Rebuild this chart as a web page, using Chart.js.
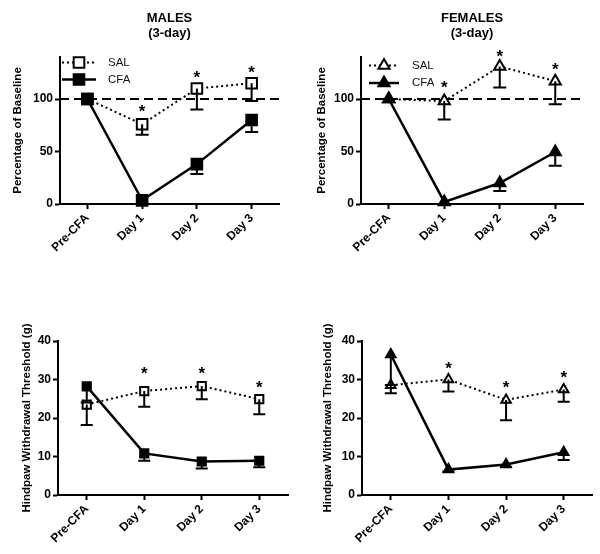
<!DOCTYPE html>
<html>
<head>
<meta charset="utf-8">
<script src="https://cdn.jsdelivr.net/npm/chart.js@4.4.0/dist/chart.umd.min.js"></script>
<style>
  html, body { margin: 0; padding: 0; background: #fff; }
  #wrap { position: relative; width: 600px; height: 554px; }
  canvas { position: absolute; }
</style>
</head>
<body>
<div id="wrap">
  <canvas id="malePct" width="300" height="277" style="left:0;top:0"></canvas>
  <canvas id="femPct" width="300" height="277" style="left:300px;top:0"></canvas>
  <canvas id="maleThr" width="300" height="277" style="left:0;top:277px"></canvas>
  <canvas id="femThr" width="300" height="277" style="left:300px;top:277px"></canvas>
</div>
<script>
const days = ['Pre-CFA', 'Day 1', 'Day 2', 'Day 3'];

// percentage of baseline (error = SEM drawn downward)
const maleSalPct = [100, 76, 110, 115];
const maleSalPctErr = [0, 10, 20, 17];
const maleCfaPct = [100, 3.5, 38, 80];
const maleCfaPctErr = [0, 0, 9.5, 11.5];
const maleSigPct = [null, 92, 125, 130];

const femSalPct = [100, 98, 131, 117];
const femSalPctErr = [0, 17.5, 20, 22];
const femCfaPct = [100, 2, 20, 49.5];
const femCfaPctErr = [0, 0, 7.5, 13];
const femSigPct = [null, 115, 145, 132];

// hindpaw withdrawal threshold (g)
const maleSalThr = [23.5, 27, 28.3, 24.9];
const maleSalThrErr = [5.3, 4.1, 3.4, 3.9];
const maleCfaThr = [28.2, 10.8, 8.7, 8.9];
const maleCfaThrErr = [4.2, 1.9, 1.8, 1.7];
const maleSigThr = [null, 32.6, 32.6, 29.2];

const femSalThr = [28.5, 30, 24.7, 27.4];
const femSalThrErr = [2.1, 3.1, 5.3, 3.2];
const femCfaThr = [36.5, 6.6, 7.9, 11.1];
const femCfaThrErr = [7.9, 0.5, 0.6, 2];
const femSigThr = [null, 34, 29, 31.6];

const pctTicks = [0, 50, 100];
const thrTicks = [0, 10, 20, 30, 40];
const baselinePct = 100;

const FONT = "'Liberation Sans', Arial, Helvetica, sans-serif";
Chart.defaults.font.family = FONT;
Chart.defaults.color = '#000';

// dashed baseline, error bars, asterisks, panel titles and the inset legend
const panelDecor = {
  id: 'panelDecor',
  beforeDatasetsDraw(chart, args, o) {
    if (o.baseline == null) return;
    const { ctx, chartArea: a, scales: { y } } = chart;
    const py = y.getPixelForValue(o.baseline);
    ctx.save();
    ctx.strokeStyle = '#000';
    ctx.lineWidth = 2;
    ctx.setLineDash([9, 5]);
    ctx.beginPath();
    ctx.moveTo(a.left, py);
    ctx.lineTo(a.right, py);
    ctx.stroke();
    ctx.restore();
  },
  afterDatasetsDraw(chart, args, o) {
    const { ctx, chartArea: a, scales: { x, y } } = chart;
    ctx.save();
    ctx.strokeStyle = '#000';
    ctx.lineWidth = 2;
    chart.data.datasets.forEach(ds => {
      ds.errors.forEach((e, i) => {
        if (!e) return;
        const px = x.getPixelForValue(i);
        const top = y.getPixelForValue(ds.data[i]);
        const bot = y.getPixelForValue(ds.data[i] - e);
        ctx.beginPath();
        ctx.moveTo(px, top);
        ctx.lineTo(px, bot);
        ctx.moveTo(px - o.cap / 2, bot);
        ctx.lineTo(px + o.cap / 2, bot);
        ctx.stroke();
      });
    });

    ctx.fillStyle = '#000';
    ctx.font = 'bold 17px ' + FONT;
    ctx.textAlign = 'center';
    ctx.textBaseline = 'alphabetic';
    o.sig.forEach((v, i) => {
      if (v == null) return;
      ctx.fillText('*', x.getPixelForValue(i), y.getPixelForValue(v) + 10);
    });

    if (o.title) {
      ctx.font = 'bold 13px ' + FONT;
      ctx.textBaseline = 'middle';
      const cx = (a.left + a.right) / 2;
      o.title.forEach((t, i) => ctx.fillText(t, cx, o.titleY[i]));
    }

    if (o.legend) {
      const L = o.legend;
      ctx.textAlign = 'left';
      ctx.textBaseline = 'middle';
      ctx.font = '11.5px ' + FONT;
      ['SAL', 'CFA'].forEach((name, k) => {
        const ds = chart.data.datasets.find(d => d.label === name);
        const ly = L.y[k];
        ctx.save();
        ctx.strokeStyle = '#000';
        ctx.lineWidth = ds.borderWidth;
        ctx.setLineDash(ds.borderDash || []);
        ctx.beginPath();
        ctx.moveTo(L.x0, ly);
        ctx.lineTo(L.x1, ly);
        ctx.stroke();
        ctx.setLineDash([]);
        ctx.lineWidth = 2;
        ctx.fillStyle = ds.pointBackgroundColor;
        Chart.helpers.drawPoint(ctx, { pointStyle: ds.pointStyle, radius: ds.pointRadius, borderWidth: 2, rotation: 0 }, (L.x0 + L.x1) / 2, ly);
        ctx.restore();
        ctx.fillStyle = '#111';
        ctx.fillText(name, L.tx, ly);
      });
    }
    ctx.restore();
  }
};

function makePanel(id, cfg) {
  const axisGrid = { drawOnChartArea: false, drawTicks: true, tickLength: 5, tickWidth: 2, tickColor: '#000' };
  const axisBorder = { display: true, color: '#000', width: 2 };
  return new Chart(document.getElementById(id), {
    type: 'line',
    data: {
      labels: days,
      datasets: [
        {
          label: 'CFA', data: cfg.cfa, errors: cfg.cfaErr, order: 0,
          borderColor: '#000', borderWidth: 2.5, tension: 0, clip: false,
          pointStyle: cfg.shape, pointRadius: cfg.r, pointBorderWidth: 2,
          pointBackgroundColor: '#000', pointBorderColor: '#000'
        },
        {
          label: 'SAL', data: cfg.sal, errors: cfg.salErr, order: 1,
          borderColor: '#000', borderWidth: 2, borderDash: [2, 3], tension: 0, clip: false,
          pointStyle: cfg.shape, pointRadius: cfg.r, pointBorderWidth: 2,
          pointBackgroundColor: '#fff', pointBorderColor: '#000'
        }
      ]
    },
    options: {
      responsive: false,
      animation: false,
      events: [],
      layout: { padding: { left: 0, top: cfg.top, right: cfg.right, bottom: 0 } },
      plugins: {
        legend: { display: false },
        tooltip: { enabled: false },
        panelDecor: {
          baseline: cfg.baseline, cap: cfg.cap, sig: cfg.sig,
          title: cfg.title, titleY: [18, 33.5], legend: cfg.legend
        }
      },
      scales: {
        x: {
          type: 'category',
          offset: true,
          afterFit: s => { s.height = cfg.xh; },
          grid: axisGrid,
          border: axisBorder,
          ticks: { autoSkip: false, minRotation: 45, maxRotation: 45, padding: 2, color: '#000', font: { weight: 'bold', size: 12 } }
        },
        y: {
          min: 0,
          max: cfg.max,
          afterFit: s => { s.width = cfg.yw; },
          afterBuildTicks: s => { s.ticks = cfg.ticks.map(v => ({ value: v })); },
          grid: axisGrid,
          border: axisBorder,
          ticks: { padding: 2, color: '#000', font: { weight: 'bold', size: 12 } },
          title: {
            display: true, text: cfg.ytitle, color: '#000',
            font: { weight: 'bold', size: 11.5 },
            padding: { top: cfg.tp, bottom: 0 }
          }
        }
      }
    },
    plugins: [panelDecor]
  });
}

makePanel('malePct', {
  sal: maleSalPct, salErr: maleSalPctErr, cfa: maleCfaPct, cfaErr: maleCfaPctErr, sig: maleSigPct,
  shape: 'rect', r: 7.5, cap: 13, max: 140, ticks: pctTicks, baseline: baselinePct,
  ytitle: 'Percentage of Baseline', tp: 11,
  title: ['MALES', '(3-day)'],
  legend: { x0: 62, x1: 96, tx: 108, y: [62.5, 79.5] },
  yw: 60, top: 57, right: 21, xh: 73
});

makePanel('femPct', {
  sal: femSalPct, salErr: femSalPctErr, cfa: femCfaPct, cfaErr: femCfaPctErr, sig: femSigPct,
  shape: 'triangle', r: 6.5, cap: 13, max: 140, ticks: pctTicks, baseline: baselinePct,
  ytitle: 'Percentage of Baseline', tp: 15,
  title: ['FEMALES', '(3-day)'],
  legend: { x0: 69, x1: 99, tx: 112, y: [65.5, 83] },
  yw: 61, top: 57, right: 17, xh: 73
});

makePanel('maleThr', {
  sal: maleSalThr, salErr: maleSalThrErr, cfa: maleCfaThr, cfaErr: maleCfaThrErr, sig: maleSigThr,
  shape: 'rect', r: 5.8, cap: 12, max: 40, ticks: thrTicks, baseline: null,
  ytitle: 'Hindpaw Withdrawal Threshold (g)', tp: 20,
  title: null, legend: null,
  yw: 58, top: 64, right: 12, xh: 59
});

makePanel('femThr', {
  sal: femSalThr, salErr: femSalThrErr, cfa: femCfaThr, cfaErr: femCfaThrErr, sig: femSigThr,
  shape: 'triangle', r: 5.5, cap: 12, max: 40, ticks: thrTicks, baseline: null,
  ytitle: 'Hindpaw Withdrawal Threshold (g)', tp: 21,
  title: null, legend: null,
  yw: 62, top: 64, right: 7, xh: 59
});
</script>
</body>
</html>
